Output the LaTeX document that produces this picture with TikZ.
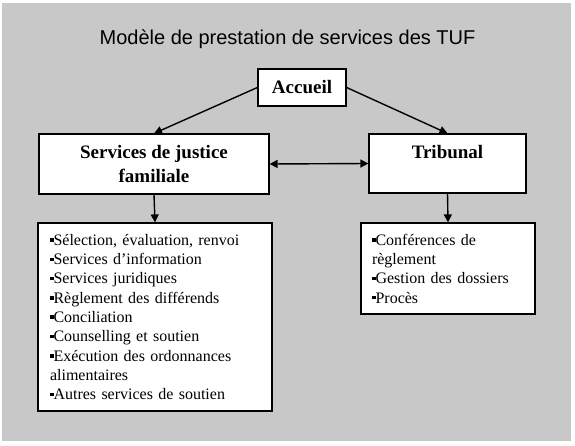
\documentclass[tikz,border=0pt]{standalone}
\usepackage{fontspec}
\usepackage{xcolor}
\usetikzlibrary{shapes,arrows.meta,arrows}
\setmainfont{Liberation Serif}
\newfontfamily\titlefont{Liberation Sans}
\definecolor{fondgris}{RGB}{200,200,200}
\newcommand{\puce}{\rule[0.22em]{0.22em}{0.22em}}
\tikzset{
  boite/.style={rectangle, draw, fill=white, line width=1.2pt, align=center,
    font=\fontsize{19}{24}\selectfont\bfseries},
  liste/.style={rectangle, draw, fill=white, line width=1.2pt, align=left,
    font=\fontsize{16}{19.3}\selectfont},
  fleche/.style={line width=1.4pt, -{Triangle[length=8pt,width=8pt]}}
}

\begin{document}
\begin{tikzpicture}[x=1pt, y=-1pt]
    \useasboundingbox (0, 0) rectangle (575, 446);
    \fill [white] (0, 0) rectangle (575, 446);
    \fill [fondgris] (2, 3) rectangle (571, 441);

    \node [anchor=base, font=\titlefont\fontsize{20}{24}\selectfont] (titre) at (287.5, 45) {Modèle de prestation de services des TUF};
    \node [boite, minimum width=88pt, minimum height=37pt] (accueil) at (302, 87.5) {Accueil};
    \node [boite, minimum width=230pt, minimum height=60pt] (sjf) at (154, 164) {Services de justice\\familiale};
    \node [boite, minimum width=157pt, minimum height=59pt] (tribunal) at (447.5, 163.5) {Tribunal\\\mbox{}};
    \node [liste, text width=210pt, inner xsep=12pt, minimum height=188pt] (servicessjf) at (155, 317) {\puce Sélection, évaluation, renvoi\\
      \puce Services d’information\\
      \puce Services juridiques\\
      \puce Règlement des différends\\
      \puce Conciliation\\
      \puce Counselling et soutien\\
      \puce Exécution des ordonnances\\
      alimentaires\\
      \puce Autres services de soutien};
    \node [liste, text width=152pt, inner xsep=11pt, minimum height=91pt] (servicestrib) at (448, 268.5) {\puce Conférences de\\
      règlement\\
      \puce Gestion des dossiers\\
      \puce Procès};

    \draw [fleche] (accueil.west) -- (sjf.north);
    \draw [fleche] (accueil.east) -- (tribunal.north);
    \draw [fleche, {Triangle[length=8pt,width=8pt]}-{Triangle[length=8pt,width=8pt]}] (sjf.east) -- (tribunal.west);
    \draw [fleche] (sjf.south) -- (servicessjf.north);
    \draw [fleche] (tribunal.south) -- (servicestrib.north);
  \end{tikzpicture}
\end{document}
